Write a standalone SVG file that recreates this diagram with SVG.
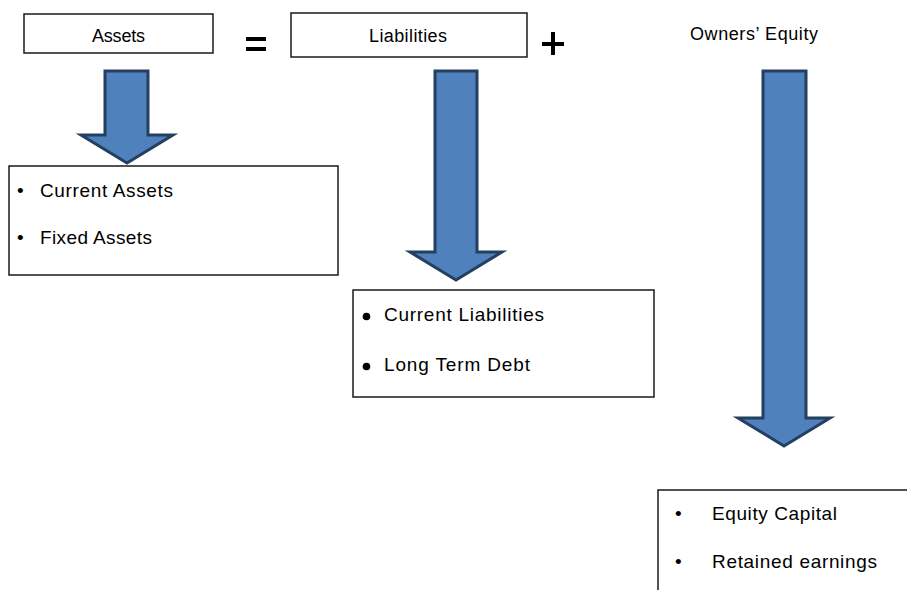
<svg xmlns="http://www.w3.org/2000/svg" width="907" height="590" viewBox="0 0 907 590">
<style>
.box{fill:#fff;stroke:#1a1a1a;stroke-width:1.5}
.arrow{fill:#4F81BD;stroke:#243F60;stroke-width:3;stroke-linejoin:miter}
.hdr{font-family:"Liberation Sans",Arial,sans-serif;font-size:18px;fill:#000}
.item{font-family:"Liberation Sans",Arial,sans-serif;font-size:19px;fill:#000}
.op{stroke:#000;stroke-width:4}
</style>
<rect width="907" height="590" fill="#fff"/>
<g id="assets">
<rect class="box" x="24" y="14" width="189" height="39"/>
<text class="hdr" x="92" y="42" textLength="53">Assets</text>
</g>
<g id="equals">
<line class="op" x1="246" y1="39" x2="266" y2="39"/>
<line class="op" x1="246" y1="49" x2="266" y2="49"/>
</g>
<g id="liabilities">
<rect class="box" x="291" y="13" width="236" height="44"/>
<text class="hdr" x="369" y="42" textLength="78">Liabilities</text>
</g>
<g id="plus">
<line class="op" x1="542" y1="44" x2="564" y2="44"/>
<line class="op" x1="553" y1="32" x2="553" y2="55"/>
</g>
<g id="equity">
<text class="hdr" x="690" y="40" textLength="128">Owners’ Equity</text>
</g>
<g id="connectors">
<path class="arrow" d="M105,71 H148 V135 H173 L127,163 L81,135 H105 Z"/>
<path class="arrow" d="M435,71 H477 V252 H502 L456,280 L410,252 H435 Z"/>
<path class="arrow" d="M763,71 H806 V418 H830 L784,446 L738,418 H763 Z"/>
</g>
<g id="asset-items">
<rect class="box" x="9" y="166" width="329" height="109"/>
<text class="item" x="17" y="197">•</text>
<text class="item" x="40" y="197" textLength="133">Current Assets</text>
<text class="item" x="17" y="244">•</text>
<text class="item" x="40" y="244" textLength="112">Fixed Assets</text>
</g>
<g id="liability-items">
<rect class="box" x="353" y="290" width="301" height="107"/>
<circle cx="366.5" cy="316.5" r="3.8" fill="#000"/>
<text class="item" x="384" y="321" textLength="160">Current Liabilities</text>
<circle cx="366.5" cy="366.5" r="3.8" fill="#000"/>
<text class="item" x="384" y="371" textLength="146">Long Term Debt</text>
</g>
<g id="equity-items">
<rect class="box" x="658" y="490" width="260" height="120"/>
<text class="item" x="675" y="520">•</text>
<text class="item" x="712" y="520" textLength="125">Equity Capital</text>
<text class="item" x="675" y="568">•</text>
<text class="item" x="712" y="568" textLength="165">Retained earnings</text>
</g>
</svg>
